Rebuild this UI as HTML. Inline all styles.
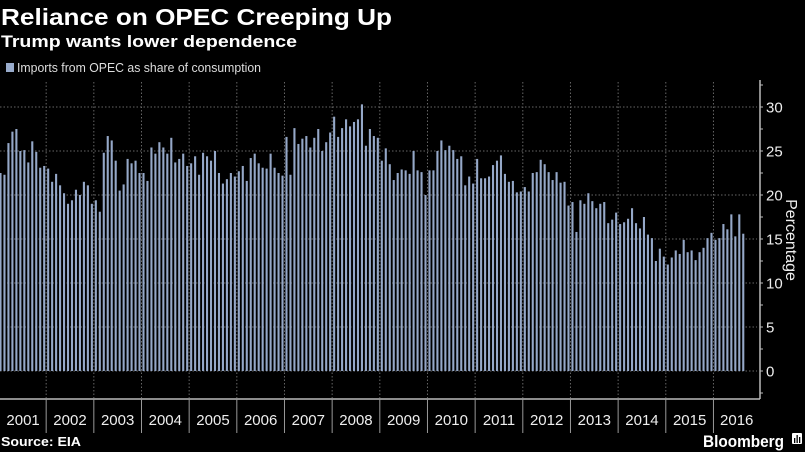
<!DOCTYPE html>
<html><head><meta charset="utf-8"><style>
html,body{margin:0;padding:0;background:#000;}
svg{display:block;font-family:"Liberation Sans",sans-serif;}
</style></head><body>
<svg id="chart" width="805" height="452" viewBox="0 0 805 452">
<text x="1" y="25" fill="#fff" font-size="23" font-weight="bold" textLength="391" lengthAdjust="spacingAndGlyphs">Reliance on OPEC Creeping Up</text>
<text x="1" y="47" fill="#fff" font-size="17" font-weight="bold" textLength="296" lengthAdjust="spacingAndGlyphs">Trump wants lower dependence</text>
<rect x="6" y="63" width="8" height="9" fill="#98abcb"/>
<text x="17" y="72" fill="#ddd" font-size="12.5" textLength="244" lengthAdjust="spacingAndGlyphs">Imports from OPEC as share of consumption</text>
<g id="grid"></g>
<g id="bars"></g>
<g id="axis"></g>
<text x="1" y="446" fill="#fff" font-size="13" font-weight="bold" textLength="80" lengthAdjust="spacingAndGlyphs">Source: EIA</text>
<text x="703" y="447" fill="#fff" font-size="17" font-weight="bold" textLength="81" lengthAdjust="spacingAndGlyphs">Bloomberg</text>
<g><rect x="792" y="433" width="10" height="11" rx="1" fill="#fff"/><rect x="794" y="438" width="1.3" height="5" fill="#000"/><rect x="796.5" y="435" width="1.3" height="8" fill="#000"/><rect x="799" y="437" width="1.3" height="6" fill="#000"/></g>
</svg>
<script>
const years = ["2001","2002","2003","2004","2005","2006","2007","2008","2009","2010","2011","2012","2013","2014","2015","2016"];
const yTicks = [0,5,10,15,20,25,30];
const values = [
22.5,22.3,25.9,27.2,27.5,25.0,25.1,23.7,26.1,24.9,23.1,23.3,
23.0,21.5,22.4,21.1,20.2,19.0,19.4,20.6,20.0,21.5,21.1,19.0,
19.4,18.1,24.8,26.7,26.2,23.9,20.5,21.2,24.1,23.6,23.9,22.5,
22.5,21.6,25.4,24.7,26.0,25.4,24.7,26.5,23.7,24.1,24.7,23.3,
23.6,24.4,22.3,24.8,24.4,23.9,25.0,22.5,21.3,21.8,22.5,22.1,
22.7,23.3,21.6,24.2,24.7,23.6,23.1,23.0,
24.7,23.1,22.5,22.2,26.6,22.3,27.6,25.8,26.4,26.7,25.4,26.5,
27.5,25.0,26.0,27.1,28.9,26.6,27.6,28.6,27.8,28.3,28.6,30.3,
25.6,27.5,26.7,26.5,23.9,25.3,23.5,21.7,22.5,
22.9,22.8,22.4,25.0,22.8,22.6,20.0,22.8,22.8,25.0,26.2,25.1,
25.6,25.1,24.1,24.4,21.1,22.1,21.3,24.1,21.9,21.9,22.1,23.4,
23.9,24.5,22.4,21.5,21.6,20.3,20.4,20.9,20.4,
22.5,22.6,24.0,23.5,22.6,21.7,22.6,21.4,21.5,18.8,19.2,15.8,
19.4,19.0,20.2,19.3,18.5,19.0,19.2,16.8,17.2,18.0,16.7,16.9,
17.3,18.5,16.8,16.2,17.5,15.5,15.1,12.5,13.9,13.0,12.1,12.9,
13.7,13.3,14.9,13.5,13.7,12.6,13.5,14.0,15.1,15.7,14.9,15.1,
16.7,16.1,17.8,15.3,17.8,15.6
];
const NS="http://www.w3.org/2000/svg";
const X0=0.5, STEP=3.972, Y0=371, UNIT=8.8, RIGHT=757, AX=760;
function xOf(i){return X0+i*STEP;}
function yOf(v){return Y0-v*UNIT;}
function yearX(k){return xOf(k*12)-2;}
function mk(tag,attrs,parent){const e=document.createElementNS(NS,tag);for(const k in attrs)e.setAttribute(k,attrs[k]);parent.appendChild(e);return e;}
const grid=document.getElementById('grid'),bars=document.getElementById('bars'),axis=document.getElementById('axis');
yTicks.forEach(t=>{
  const l=mk('line',{x1:0,x2:RIGHT,y1:yOf(t),y2:yOf(t),stroke:'#666','stroke-width':1,'stroke-dasharray':'1.5,2'},grid);
  
  
});
years.forEach((y,k)=>{
  if(k===0)return;
  const l=mk('line',{x1:yearX(k),x2:yearX(k),y1:82,y2:398,stroke:'#666','stroke-width':1,'stroke-dasharray':'1.5,2'},grid);
  
  
});
values.forEach((v,i)=>{
  const r=mk('rect',{x:xOf(i)-1.05,y:yOf(v),width:2.1,height:v*UNIT,fill:'#95a8c8'},bars);
  
  
});
const al=mk('line',{x1:AX,x2:AX,y1:80,y2:399,stroke:'#bbb','stroke-width':1.5},axis);


for(let v=-2.5;v<=32.5;v+=2.5){
  const tk=mk('line',{x1:AX,x2:AX+3,y1:yOf(v),y2:yOf(v),stroke:'#bbb','stroke-width':1},axis);
  
  
}
yTicks.forEach(t=>{
  const tx=mk('text',{x:766,y:yOf(t)+5.5,fill:'#eee','font-size':15},axis);
  tx.textContent=t;
  
  
});
const yt=mk('text',{x:0,y:0,fill:'#eee','font-size':16,'text-anchor':'middle',transform:'translate(786,240) rotate(90)'},axis);
yt.textContent='Percentage';


const xl=mk('line',{x1:0,x2:AX,y1:399,y2:399,stroke:'#bbb','stroke-width':1.5},axis);


years.forEach((y,k)=>{
  if(k>0){
    const s=mk('line',{x1:yearX(k),x2:yearX(k),y1:399,y2:433,stroke:'#999','stroke-width':1},axis);
    
    
  }
  const cx=(Math.max(0,yearX(k))+Math.min(AX,yearX(k+1)))/2;
  const t=mk('text',{x:cx,y:425,fill:'#eee','font-size':15,'text-anchor':'middle'},axis);
  t.textContent=y;
  
  
});
</script>
</body></html>
